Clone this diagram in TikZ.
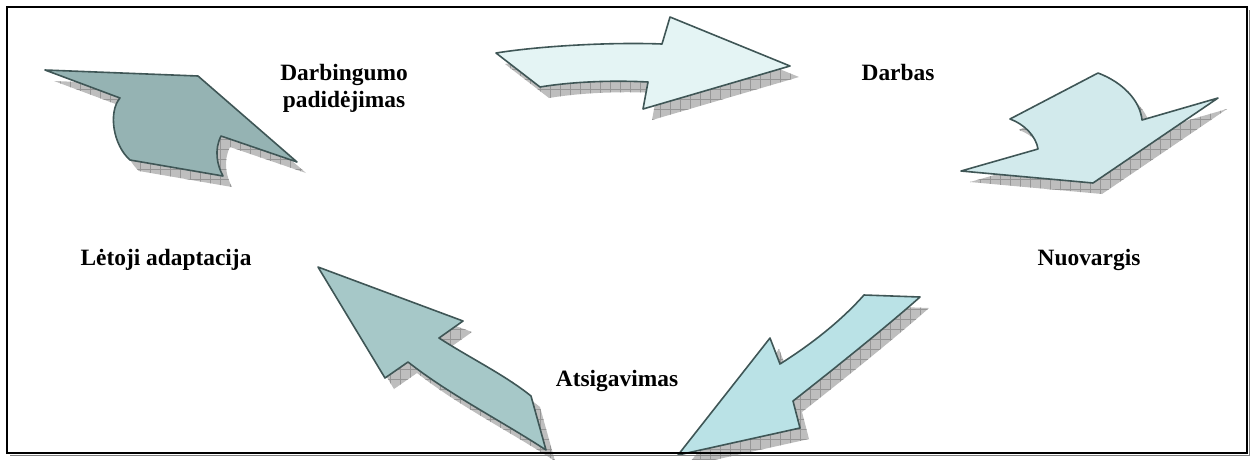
\documentclass[tikz,border=0pt]{standalone}
\usepackage{fontspec}
\setmainfont{Liberation Serif}
\usetikzlibrary{patterns.meta}
\definecolor{ArrowDark}{RGB}{149,179,179}
\definecolor{ArrowMid}{RGB}{166,200,200}
\definecolor{ArrowPale}{RGB}{228,244,244}
\definecolor{ArrowLight}{RGB}{210,234,236}
\definecolor{ArrowCyan}{RGB}{186,226,230}
\definecolor{EdgeClr}{RGB}{63,86,86}
\definecolor{ShadowFill}{RGB}{190,190,190}
\definecolor{ShadowLine}{RGB}{150,150,150}

\tikzdeclarepattern{
  name=shadowgrid,
  type=colored,
  bottom left={(-.5pt,-.5pt)},
  top right={(10.5pt,10.5pt)},
  tile size={(10pt,10pt)},
  code={
    \draw[ShadowLine,line width=.6pt] (0pt,0pt) -- (10pt,0pt) (0pt,0pt) -- (0pt,10pt);
  }
}

\newcommand\ArrowUL{(45,70) -- (198,76) -- (297,162) -- (221,136)
  .. controls (214,150) and (217,165) .. (223,176) -- (130,160)
  .. controls (113,145) and (108,112) .. (120,98) -- cycle}
\newcommand\ArrowTop{(496,53) .. controls (540,46) and (610,42) .. (662,44)
  -- (670,17) -- (790,66) -- (643,109) -- (648,82)
  .. controls (610,80) and (570,82) .. (540,87) -- cycle}
\newcommand\ArrowUR{(1098,73) .. controls (1122,82) and (1140,100) .. (1142,120)
  -- (1218,98) -- (1093,183) -- (961,171) -- (1038,149)
  .. controls (1036,136) and (1024,124) .. (1010,119) -- cycle}
\newcommand\ArrowLR{(864,295) -- (920,297)
  .. controls (885,328) and (830,372) .. (793,401) -- (800,428) -- (678,455)
  -- (770,338) -- (780,364) .. controls (810,345) and (840,322) .. (864,295) -- cycle}
\newcommand\ArrowLL{(318,267) -- (463,321) -- (439,338)
  .. controls (470,358) and (505,375) .. (531,396) -- (546,450)
  .. controls (500,420) and (450,395) .. (408,362) -- (385,378) -- cycle}

\begin{document}
\begin{tikzpicture}[x=1pt,y=-1pt,
  shade/.style={shift={(9,11)},preaction={fill=ShadowFill},pattern=shadowgrid},
  arrowbody/.style={draw=EdgeClr,line width=1.6pt,line join=round},
  label/.style={font=\fontsize{23.4}{27}\selectfont\bfseries,align=center,anchor=base,inner sep=0pt}]
\useasboundingbox (0,0) rectangle (1252,459);

% shadows
\foreach \shape in {\ArrowUL,\ArrowTop,\ArrowUR,\ArrowLR,\ArrowLL}
  \fill[shade] \shape;

% arrows
\filldraw[arrowbody,fill=ArrowDark] \ArrowUL;
\filldraw[arrowbody,fill=ArrowPale] \ArrowTop;
\filldraw[arrowbody,fill=ArrowLight] \ArrowUR;
\filldraw[arrowbody,fill=ArrowCyan] \ArrowLR;
\filldraw[arrowbody,fill=ArrowMid] \ArrowLL;

% labels
\node[label] (darbingumo) at (344,107) {Darbingumo\\padidėjimas};
\node[label] (darbas) at (898,80) {Darbas};
\node[label] (nuovargis) at (1089,265) {Nuovargis};
\node[label] (letoji) at (166,265) {Lėtoji adaptacija};
\node[label] (atsigavimas) at (617,386) {Atsigavimas};

% frame
\draw[gray,line width=1.2pt] (10,455.5) -- (1249.5,455.5) -- (1249.5,10);
\draw[line width=2.4pt] (7,7) rectangle (1247,453);
\end{tikzpicture}
\end{document}
